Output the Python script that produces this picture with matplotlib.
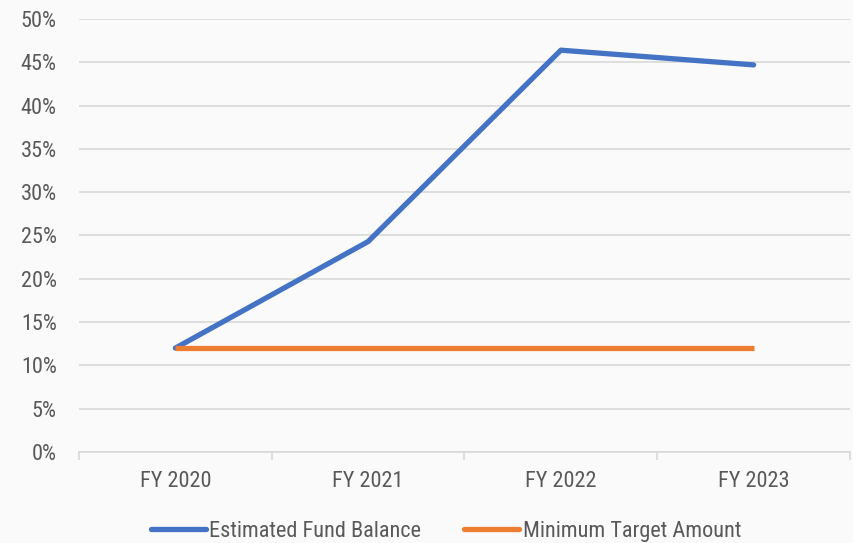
import matplotlib.pyplot as plt
from matplotlib.ticker import FuncFormatter
from matplotlib.lines import Line2D

years = ['FY 2020', 'FY 2021', 'FY 2022', 'FY 2023']
fund_balance = [12.0, 24.3, 46.4, 44.7]
min_target = [12.0, 12.0, 12.0, 12.0]

plt.rcParams['font.family'] = ['Roboto Condensed', 'Liberation Sans', 'DejaVu Sans']
text_col = '#595959'
blue = '#4472C4'
orange = '#ED7D31'

fig = plt.figure(figsize=(8.54, 5.43), dpi=100, facecolor='#fafafa')
ax = fig.add_axes([0.0925, 0.1676, 0.9028, 0.7974])
ax.set_facecolor('none')

x = list(range(len(years)))
ax.plot(x, fund_balance, color=blue, lw=3.8, solid_capstyle='round', solid_joinstyle='round', zorder=3)
ax.plot(x, min_target, color=orange, lw=3.8, solid_capstyle='butt', zorder=3)

ax.set_xlim(-0.5, 3.5)
ax.set_ylim(0, 50)
ax.set_yticks(range(0, 51, 5))
ax.yaxis.set_major_formatter(FuncFormatter(lambda v, p: f'{v:.0f}%'))
ax.set_xticks(x)
ax.set_xticklabels(years)
ax.set_xticks([-0.5, 0.5, 1.5, 2.5, 3.5], minor=True)

ax.grid(axis='y', color='#d9d9d9', lw=1.2)
ax.set_axisbelow(True)
for s in ['top', 'right', 'left']:
    ax.spines[s].set_visible(False)
ax.spines['bottom'].set_color('#d9d9d9')
ax.spines['bottom'].set_linewidth(1.2)

ax.tick_params(axis='y', length=0, pad=16, labelsize=16, labelcolor=text_col)
ax.tick_params(axis='x', which='major', length=0, pad=14, labelsize=16, labelcolor=text_col)
ax.tick_params(axis='x', which='minor', length=6, width=1.2, color='#d9d9d9')

handles = [Line2D([], [], color=blue, lw=3.8, solid_capstyle='round'),
           Line2D([], [], color=orange, lw=3.8, solid_capstyle='round')]
fig.legend(handles, ['Estimated Fund Balance', 'Minimum Target Amount'],
           loc='center', bbox_to_anchor=(0.522, 0.022), ncol=2, frameon=False,
           fontsize=16, labelcolor=text_col, handlelength=2.5, handletextpad=0.15,
           columnspacing=1.9)

fig.savefig('out.png', dpi=100, facecolor=fig.get_facecolor())
